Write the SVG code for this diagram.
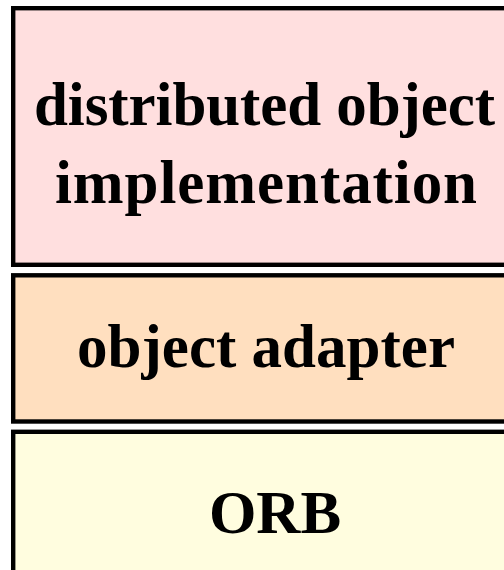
<svg xmlns="http://www.w3.org/2000/svg" width="504" height="570" viewBox="0 0 504 570">
  <style>
    .layer { stroke: #000; stroke-width: 4.4; }
    .label { font-family: "Liberation Serif", "Times New Roman", serif; font-weight: bold; font-size: 61px; fill: #000; text-anchor: middle; }
  </style>
  <rect width="504" height="570" fill="#fff"/>
  <g id="impl">
    <rect class="layer" x="13.2" y="8.2" width="510" height="256.6" fill="#FFDFDF"/>
    <text class="label" x="264.5" y="125" textLength="461" lengthAdjust="spacing">distributed object</text>
    <text class="label" x="266" y="203" textLength="422" lengthAdjust="spacing">implementation</text>
  </g>
  <g id="adapter">
    <rect class="layer" x="13.2" y="275.3" width="510" height="146.2" fill="#FFDFBF"/>
    <text class="label" x="266" y="367" textLength="378" lengthAdjust="spacing">object adapter</text>
  </g>
  <g id="orb">
    <rect class="layer" x="13.2" y="431.8" width="530" height="160" fill="#FFFDDF"/>
    <text class="label" x="275" y="533">ORB</text>
  </g>
  <g id="connectors"/>
</svg>
